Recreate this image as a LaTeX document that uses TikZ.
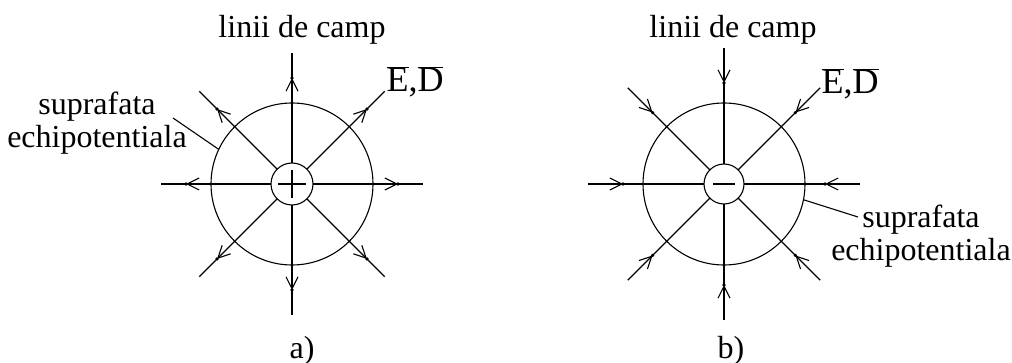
\documentclass[tikz,border=0pt]{standalone}
\usepackage{fontspec}
\setmainfont{Liberation Serif}
\newfontfamily\tnr{Liberation Serif}
\usetikzlibrary{arrows.meta,calc}
\begin{document}
\begin{tikzpicture}[x=1pt,y=-1pt,
  line width=1.1pt,
  lbl/.style={inner sep=0pt,anchor=base,font=\tnr\fontsize{32}{34}\selectfont},
  edlbl/.style={inner sep=0pt,anchor=base,font=\tnr\fontsize{36}{38}\selectfont},
  fld/.style={-{Straight Barb[length=12pt,width=12pt,line width=1.1pt]}},
  tipdot/.style={fill=black}]
\useasboundingbox (0,0) rectangle (1012,363);
% ---------- a) ----------
\coordinate (ca) at (292,184);
\draw (ca) circle (81);
\draw (ca) circle (21);
\draw ($(ca)+(-14,0)$) -- ($(ca)+(14,0)$);
\draw ($(ca)+(0,-14)$) -- ($(ca)+(0,14)$);
\foreach \a in {0,45,...,315}{
  \coordinate (ai\a) at ($(ca)+(\a:21)$);
  \coordinate (at\a) at ($(ca)+(\a:106)$);
  \coordinate (ao\a) at ($(ca)+(\a:131)$);
  \draw[fld] (ai\a) -- (at\a);
  \draw (at\a) -- (ao\a);
  \fill[tipdot] (at\a) circle (1.8);
}
\node[lbl] (la) at (302,38) {linii de camp};
\node[edlbl] (eda) at (415,92) {$\overline{\hbox{\tnr E}}$,$\overline{\hbox{\tnr D}}$};
\node[lbl] (sa1) at (97,115) {suprafata};
\node[lbl] (sa2) at (97,148) {echipotentiala};
\coordinate (ja) at ($(ca)+(205.3:81)$);
\coordinate (ka) at (173,118);
\draw (ka) -- (ja);
\node[lbl] (capa) at (302,358) {a)};
% ---------- b) ----------
\coordinate (cb) at (724,184);
\draw (cb) circle (81);
\draw (cb) circle (20);
\draw ($(cb)+(-11,0)$) -- ($(cb)+(11,0)$);
\foreach \a in {0,45,...,315}{
  \coordinate (bi\a) at ($(cb)+(\a:20)$);
  \coordinate (bt\a) at ($(cb)+(\a:101)$);
  \coordinate (bo\a) at ($(cb)+(\a:136)$);
  \draw[fld] (bo\a) -- (bt\a);
  \draw (bt\a) -- (bi\a);
  \fill[tipdot] (bt\a) circle (1.8);
}
\node[lbl] (lb) at (733,38) {linii de camp};
\node[edlbl] (edb) at (850,94) {$\overline{\hbox{\tnr E}}$,$\overline{\hbox{\tnr D}}$};
\node[lbl] (sb1) at (921,228) {suprafata};
\node[lbl] (sb2) at (921,261) {echipotentiala};
\coordinate (jb) at ($(cb)+(11.2:81)$);
\coordinate (kb) at (858,217);
\draw (jb) -- (kb);
\node[lbl] (capb) at (731,358) {b)};
\end{tikzpicture}
\end{document}
